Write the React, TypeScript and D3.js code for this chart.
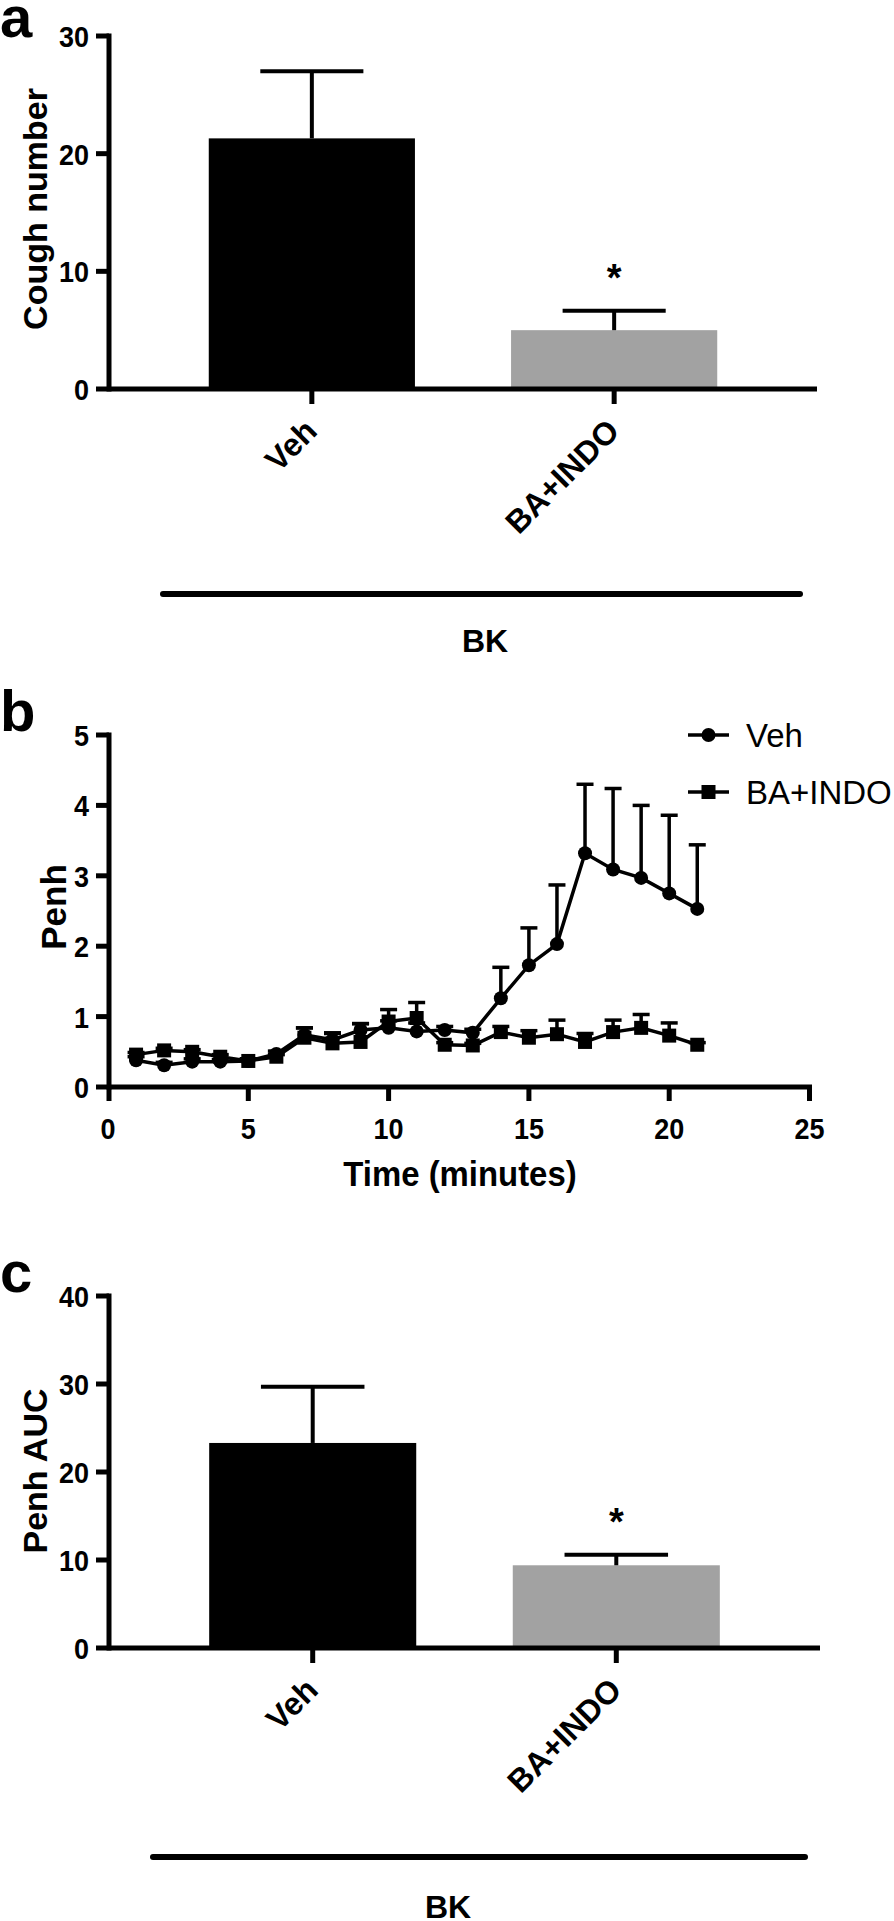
import React from 'react';
import * as d3 from 'd3';

// ---------- data ----------
const barCategories = ['Veh', 'BA+INDO'];
const coughMean = [21.3, 5.0];
const coughSem = [5.7, 1.66];
const aucMean = [23.3, 9.4];
const aucSem = [6.4, 1.2];
const coughTicks = [0, 10, 20, 30];
const aucTicks = [0, 10, 20, 30, 40];

const minutes = [1, 2, 3, 4, 5, 6, 7, 8, 9, 10, 11, 12, 13, 14, 15, 16, 17, 18, 19, 20, 21];
const vehPenh = [0.38, 0.31, 0.36, 0.36, 0.37, 0.47, 0.74, 0.67, 0.81, 0.84, 0.79, 0.81, 0.77, 1.26, 1.73, 2.03, 3.32, 3.09, 2.97, 2.75, 2.53];
const vehPenhSem = [0.05, 0.04, 0.04, 0.03, 0.03, 0.04, 0.1, 0.1, 0.09, 0.1, 0.12, 0.05, 0.05, 0.44, 0.53, 0.84, 0.98, 1.15, 1.03, 1.11, 0.91];
const baPenh = [0.46, 0.52, 0.5, 0.43, 0.37, 0.43, 0.7, 0.62, 0.64, 0.93, 0.98, 0.6, 0.59, 0.78, 0.7, 0.75, 0.64, 0.78, 0.84, 0.73, 0.6];
const baPenhSem = [0.03, 0.03, 0.03, 0.03, 0.03, 0.03, 0.14, 0.14, 0.26, 0.17, 0.22, 0.03, 0.03, 0.08, 0.1, 0.2, 0.12, 0.17, 0.19, 0.18, 0.03];
const penhTicks = [0, 1, 2, 3, 4, 5];
const timeTicks = [0, 5, 10, 15, 20, 25];
const legendLabels = ['Veh', 'BA+INDO'];

const FONT = "'Liberation Sans', Arial, Helvetica, sans-serif";
const AXW = 5;

function BarPanel(props: any) {
  const { letter, letterY, yLabel, yLabelY, mean, sem, ticks, yMax, y0, yTop, xEnd, bkLineY, bkLine, bkTextX, bkTextY } = props;
  const axX = 109;
  const y = d3.scaleLinear().domain([0, yMax]).range([y0, yTop]);
  const x = d3.scaleBand().domain(barCategories).range([axX, xEnd]).paddingInner(0.318).paddingOuter(0.33);
  const fills = ['#000000', '#a2a2a2'];
  return (
    <g>
      <text x={0} y={letterY} fontFamily={FONT} fontWeight="bold" fontSize={58}>{letter}</text>
      {barCategories.map((c, i) => {
        const bx = x(c) as number;
        const bw = x.bandwidth();
        const cx = bx + bw / 2;
        return (
          <g key={c}>
            <rect x={bx} y={y(mean[i])} width={bw} height={y(0) - y(mean[i])} fill={fills[i]} />
            <line x1={cx} x2={cx} y1={y(mean[i])} y2={y(mean[i] + sem[i])} stroke="#000" strokeWidth={4} />
            <line x1={cx - bw / 4} x2={cx + bw / 4} y1={y(mean[i] + sem[i])} y2={y(mean[i] + sem[i])} stroke="#000" strokeWidth={4} />
            <line x1={cx} x2={cx} y1={y0} y2={y0 + 15} stroke="#000" strokeWidth={AXW} />
            <text transform={`translate(${cx + 7},${y0 + 44}) rotate(-45)`} textAnchor="end" fontFamily={FONT} fontWeight="bold" fontSize={32}>{c}</text>
            {i === 1 && (
              <text x={cx} y={y(mean[i] + sem[i]) - 20} textAnchor="middle" fontFamily={FONT} fontWeight="bold" fontSize={38}>*</text>
            )}
          </g>
        );
      })}
      {/* axes */}
      <line x1={axX} x2={axX} y1={yTop - 2.5} y2={y0 + 2.5} stroke="#000" strokeWidth={AXW} />
      <line x1={axX} x2={xEnd} y1={y0} y2={y0} stroke="#000" strokeWidth={AXW} />
      {ticks.map((t: number) => (
        <g key={t}>
          <line x1={axX - 13} x2={axX} y1={y(t)} y2={y(t)} stroke="#000" strokeWidth={AXW} />
          <text transform={`translate(89,${y(t) + 11}) scale(0.9,1)`} textAnchor="end" fontFamily={FONT} fontWeight="bold" fontSize={30}>{t}</text>
        </g>
      ))}
      <text transform={`translate(47,${yLabelY}) rotate(-90)`} textAnchor="middle" fontFamily={FONT} fontWeight="bold" fontSize={34}>{yLabel}</text>
      <line x1={bkLine[0]} x2={bkLine[1]} y1={bkLineY} y2={bkLineY} stroke="#000" strokeWidth={6} strokeLinecap="round" />
      <text x={bkTextX} y={bkTextY} textAnchor="middle" fontFamily={FONT} fontWeight="bold" fontSize={32}>BK</text>
    </g>
  );
}

function LinePanel() {
  const x = d3.scaleLinear().domain([0, 25]).range([108, 809.5]);
  const y = d3.scaleLinear().domain([0, 5]).range([1087, 735]);
  const axX = 109;
  const line = d3.line<number>().x((_, i) => x(minutes[i])).y((d) => y(d));
  const series = [
    { mean: vehPenh, sem: vehPenhSem, shape: 'circle' },
    { mean: baPenh, sem: baPenhSem, shape: 'square' },
  ];
  const marker = (shape: string, cx: number, cy: number, key: any) =>
    shape === 'circle' ? (
      <circle key={key} cx={cx} cy={cy} r={7} fill="#000" />
    ) : (
      <rect key={key} x={cx - 7} y={cy - 7} width={14} height={14} fill="#000" />
    );
  return (
    <g>
      <text x={0} y={731} fontFamily={FONT} fontWeight="bold" fontSize={58}>b</text>
      {series.map((s, si) => (
        <g key={si}>
          {s.mean.map((v, i) => {
            const cx = x(minutes[i]);
            const top = y(v + s.sem[i]);
            return (
              <g key={i}>
                <line x1={cx} x2={cx} y1={y(v)} y2={top} stroke="#000" strokeWidth={3.5} />
                <line x1={cx - 8.5} x2={cx + 8.5} y1={top} y2={top} stroke="#000" strokeWidth={3.5} />
              </g>
            );
          })}
          <path d={line(s.mean) || ''} fill="none" stroke="#000" strokeWidth={3.5} />
          {s.mean.map((v, i) => marker(s.shape, x(minutes[i]), y(v), i))}
        </g>
      ))}
      {/* axes */}
      <line x1={axX} x2={axX} y1={735 - 2.5} y2={1087 + 2.5} stroke="#000" strokeWidth={AXW} />
      <line x1={axX} x2={x(25) + 2.5} y1={1087} y2={1087} stroke="#000" strokeWidth={AXW} />
      {penhTicks.map((t) => (
        <g key={t}>
          <line x1={axX - 13} x2={axX} y1={y(t)} y2={y(t)} stroke="#000" strokeWidth={AXW} />
          <text transform={`translate(89,${y(t) + 11}) scale(0.9,1)`} textAnchor="end" fontFamily={FONT} fontWeight="bold" fontSize={30}>{t}</text>
        </g>
      ))}
      {timeTicks.map((t) => (
        <g key={t}>
          <line x1={x(t) + (t === 0 ? 1 : 0)} x2={x(t) + (t === 0 ? 1 : 0)} y1={1087} y2={1101} stroke="#000" strokeWidth={AXW} />
          <text transform={`translate(${x(t)},1139) scale(0.9,1)`} textAnchor="middle" fontFamily={FONT} fontWeight="bold" fontSize={30}>{t}</text>
        </g>
      ))}
      <text transform={`translate(460,1186) scale(0.94,1)`} textAnchor="middle" fontFamily={FONT} fontWeight="bold" fontSize={35}>Time (minutes)</text>
      <text transform={`translate(66,907) rotate(-90)`} textAnchor="middle" fontFamily={FONT} fontWeight="bold" fontSize={35}>Penh</text>
      {/* legend */}
      {legendLabels.map((l, i) => {
        const ly = 735 + i * 57;
        return (
          <g key={l}>
            <line x1={688} x2={729} y1={ly} y2={ly} stroke="#000" strokeWidth={3.5} />
            {marker(series[i].shape, 708.5, ly, 'm')}
            <text x={746} y={ly + 12} fontFamily={FONT} fontSize={33}>{l}</text>
          </g>
        );
      })}
    </g>
  );
}

export default function App() {
  return (
    <svg width={894} height={1921} viewBox="0 0 894 1921" style={{ position: 'absolute', left: 0, top: 0, background: '#fff' }}>
      <rect width={894} height={1921} fill="#fff" />
      <BarPanel
        letter="a" letterY={37} yLabel="Cough number" yLabelY={209}
        mean={coughMean} sem={coughSem} ticks={coughTicks} yMax={30} y0={389} yTop={36} xEnd={817}
        bkLineY={594} bkLine={[163, 800]} bkTextX={485} bkTextY={652}
      />
      <LinePanel />
      <BarPanel
        letter="c" letterY={1292} yLabel="Penh AUC" yLabelY={1471}
        mean={aucMean} sem={aucSem} ticks={aucTicks} yMax={40} y0={1648} yTop={1296} xEnd={820}
        bkLineY={1857} bkLine={[153, 805]} bkTextX={448} bkTextY={1918}
      />
    </svg>
  );
}
